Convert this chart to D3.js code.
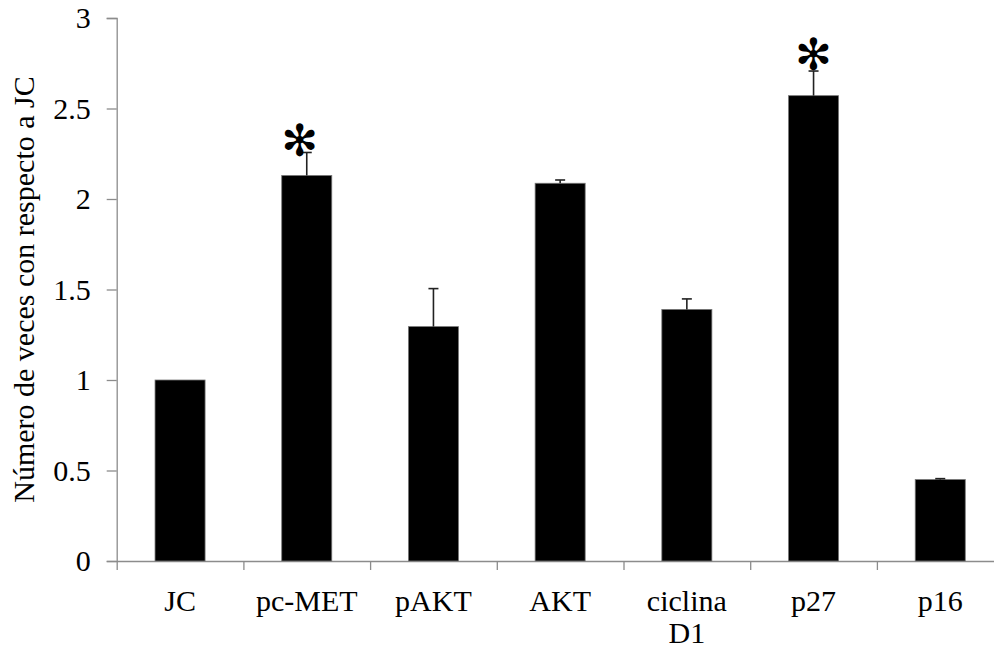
<!DOCTYPE html>
<html>
<head>
<meta charset="utf-8">
<script src="https://cdn.jsdelivr.net/npm/d3@7"></script>
</head>
<body style="margin:0">
<svg id="chart" width="994" height="652"></svg>
<script>
// data
const categories = ['JC', 'pc-MET', 'pAKT', 'AKT', 'ciclina D1', 'p27', 'p16']
const values = [1.0, 2.13, 1.295, 2.087, 1.39, 2.571, 0.45]
const errors = [0, 0.127, 0.21, 0.018, 0.058, 0.136, 0.005]
const significant = [false, true, false, false, false, true, false]
const yTicks = [0, 0.5, 1, 1.5, 2, 2.5, 3]

const serif = '"Liberation Serif"'
const svg = d3.select('#chart')
const plotLeft = 116.7
const step = 126.7
const plotTop = 18
const plotBottom = 561

const x = d3.scaleBand()
  .domain(categories)
  .range([plotLeft, plotLeft + step * categories.length])
  .paddingInner(0.605)
  .paddingOuter(0.3025)

// linear scale over the category boundaries, used for the bottom ticks
const xEdge = d3.scaleLinear()
  .domain([0, categories.length])
  .range([plotLeft, plotLeft + step * categories.length])

const y = d3.scaleLinear().domain([0, 3]).range([plotBottom, plotTop])

const axisColor = '#8c8c8c'

// y axis
const gy = svg.append('g')
  .attr('transform', 'translate(' + plotLeft + ',0)')
  .call(d3.axisLeft(y).tickValues(yTicks).tickSize(10).tickPadding(16)
    .tickFormat(d => String(d)))
gy.attr('font-family', null).attr('font-size', null)
gy.select('.domain').attr('stroke', axisColor).attr('stroke-width', 1.3)
gy.selectAll('.tick line').attr('stroke', axisColor).attr('stroke-width', 1.3)
gy.selectAll('.tick text')
  .style('font-family', serif)
  .style('font-size', '30px')
  .attr('fill', '#000')

// x axis (ticks at category edges)
const gx = svg.append('g')
  .attr('transform', 'translate(0,' + plotBottom + ')')
  .call(d3.axisBottom(xEdge).tickValues(d3.range(categories.length + 1))
    .tickSize(9).tickSizeOuter(0).tickFormat(''))
gx.select('.domain').attr('stroke', axisColor).attr('stroke-width', 1.3)
gx.selectAll('.tick line').attr('stroke', axisColor).attr('stroke-width', 1.3)

// bars
svg.append('g').selectAll('rect')
  .data(categories)
  .join('rect')
  .attr('x', d => x(d))
  .attr('y', (d, i) => y(values[i]))
  .attr('width', x.bandwidth())
  .attr('height', (d, i) => y(0) - y(values[i]))
  .attr('fill', '#000')
  .attr('stroke', '#777')
  .attr('stroke-width', 0.8)

// error bars
const eb = svg.append('g').attr('stroke', '#222').attr('stroke-width', 1.6)
categories.forEach((c, i) => {
  if (errors[i] <= 0) return
  const cx = x(c) + x.bandwidth() / 2
  eb.append('line')
    .attr('x1', cx).attr('x2', cx)
    .attr('y1', y(values[i])).attr('y2', y(values[i] + errors[i]))
  eb.append('line')
    .attr('x1', cx - 5).attr('x2', cx + 5)
    .attr('y1', y(values[i] + errors[i])).attr('y2', y(values[i] + errors[i]))
})

// significance marks
const nudge = { 'pc-MET': [-7, 0], p27: [0, -5] }
categories.forEach((c, i) => {
  if (!significant[i]) return
  const n = nudge[c] || [0, 0]
  svg.append('text')
    .attr('x', x(c) + x.bandwidth() / 2 + n[0])
    .attr('y', y(values[i] + errors[i]) + n[1] + 4)
    .attr('text-anchor', 'middle')
    .style('font-family', '"DejaVu Sans"')
    .style('font-size', '44px')
    .text('\u273B')
})

// category labels
svg.append('g').selectAll('text')
  .data(categories)
  .join('text')
  .attr('x', d => x(d) + x.bandwidth() / 2)
  .attr('y', 611)
  .attr('text-anchor', 'middle')
  .style('font-family', serif)
  .style('font-size', '30px')
  .each(function (d) {
    const parts = d.split(' ')
    d3.select(this).selectAll('tspan')
      .data(parts)
      .join('tspan')
      .attr('x', x(d) + x.bandwidth() / 2)
      .attr('dy', (p, j) => j === 0 ? 0 : 32)
      .text(p => p)
  })

// y axis title
svg.append('text')
  .attr('transform', 'translate(34,' + ((plotTop + plotBottom) / 2) + ') rotate(-90)')
  .attr('text-anchor', 'middle')
  .style('font-family', serif)
  .style('font-size', '30px')
  .text('Número de veces con respecto a JC')
</script>
</body>
</html>
